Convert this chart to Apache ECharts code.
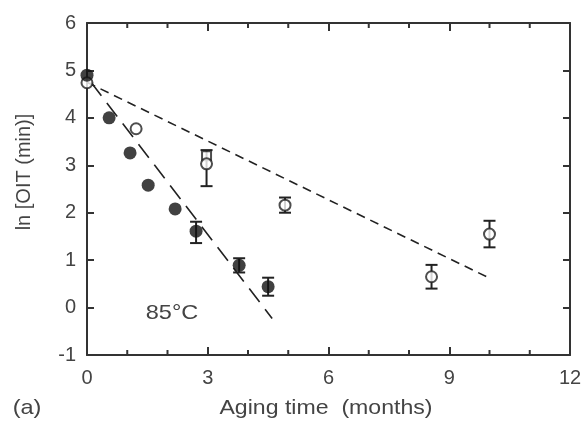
<!DOCTYPE html>
<html><head><meta charset="utf-8">
<script src="https://cdn.jsdelivr.net/npm/echarts@6/dist/echarts.min.js"></script>
<style>html,body{margin:0;padding:0;background:#fff}#c{width:585px;height:422px}</style>
</head><body><div id="c"></div>
<script>
const xTicks = [0, 3, 6, 9, 12];
const xMinorTicks = [1, 2, 4, 5, 7, 8, 10, 11];
const yTicks = [-1, 0, 1, 2, 3, 4, 5, 6];
const filledX = [0, 0.55, 1.07, 1.52, 2.19, 2.71, 3.78, 4.5];
const filledY = [4.9, 4.0, 3.26, 2.58, 2.08, 1.61, 0.89, 0.44];
const filledErr = [null, null, null, null, null, [1.36, 1.81], [0.74, 1.04], [0.25, 0.63]];
const openX = [0, 1.22, 2.97, 4.92, 8.56, 10.0];
const openY = [4.74, 3.77, 3.03, 2.16, 0.65, 1.55];
const openErr = [null, null, [2.56, 3.32], [2.0, 2.32], [0.4, 0.9], [1.27, 1.83]];
const squareX = [2.97];
const squareY = [3.2];
const fastFitX = [0.1, 4.6];
const fastFitY = [4.75, -0.23];
const slowFitX = [0, 10];
const slowFitY = [4.75, 0.62];

const pairs = (xs, ys) => xs.map((x, i) => [x, ys[i]]);
const errData = [];
filledX.forEach((x, i) => { if (filledErr[i]) errData.push([x, filledErr[i][0], filledErr[i][1]]); });
openX.forEach((x, i) => { if (openErr[i]) errData.push([x, openErr[i][0], openErr[i][1]]); });
const yMin = yTicks[0], yMax = yTicks[yTicks.length - 1];

const txt = '#444';
const axisCol = '#333';
const font = 'Liberation Sans, Arial, sans-serif';

const chart = echarts.init(document.getElementById('c'), null, {renderer: 'canvas'});
function xAx(pos) {
  return {
    type: 'value', min: xTicks[0], max: xTicks[xTicks.length - 1], interval: 3,
    position: pos,
    axisLine: {show: true, onZero: false, lineStyle: {color: axisCol, width: 2}},
    axisTick: {show: true, inside: true, length: 8, lineStyle: {color: axisCol, width: 2}},
    axisLabel: pos === 'bottom' ? {color: txt, fontSize: 20, fontFamily: font, margin: 13} : {show: false},
    splitLine: {show: false}
  };
}
function yAx(pos) {
  return {
    type: 'value', min: yMin, max: yMax, interval: 1,
    position: pos,
    axisLine: {show: true, onZero: false, lineStyle: {color: axisCol, width: 2}},
    axisTick: {show: true, inside: true, length: 7, lineStyle: {color: axisCol, width: 2}},
    axisLabel: pos === 'left' ? {color: txt, fontSize: 20, fontFamily: font, margin: 11} : {show: false},
    splitLine: {show: false}
  };
}
chart.setOption({
  animation: false,
  backgroundColor: '#fff',
  grid: {left: 87, right: 15, top: 23, bottom: 67},
  xAxis: [xAx('bottom'), xAx('top')],
  yAxis: [yAx('left'), yAx('right')],
  series: [
    {
      type: 'custom', xAxisIndex: 0, yAxisIndex: 0, z: 1,
      data: errData,
      renderItem: function (params, api) {
        const top = api.coord([api.value(0), api.value(2)]);
        const bot = api.coord([api.value(0), api.value(1)]);
        const w = 6;
        const st = {stroke: '#222', lineWidth: 2};
        return {type: 'group', children: [
          {type: 'line', shape: {x1: top[0], y1: top[1], x2: bot[0], y2: bot[1]}, style: st},
          {type: 'line', shape: {x1: top[0] - w, y1: top[1], x2: top[0] + w, y2: top[1]}, style: st},
          {type: 'line', shape: {x1: bot[0] - w, y1: bot[1], x2: bot[0] + w, y2: bot[1]}, style: st}
        ]};
      }
    },
    {
      type: 'custom', xAxisIndex: 0, yAxisIndex: 0, z: 1, silent: true, clip: false,
      data: xMinorTicks.map(v => [v, yMin, yMax]),
      renderItem: function (params, api) {
        const b = api.coord([api.value(0), api.value(1)]);
        const t = api.coord([api.value(0), api.value(2)]);
        const st = {stroke: axisCol, lineWidth: 2};
        return {type: 'group', children: [
          {type: 'line', shape: {x1: b[0], y1: b[1], x2: b[0], y2: b[1] - 5}, style: st},
          {type: 'line', shape: {x1: t[0], y1: t[1], x2: t[0], y2: t[1] + 5}, style: st}
        ]};
      }
    },
    {
      type: 'line', data: pairs(slowFitX, slowFitY), symbol: 'none', z: 2,
      lineStyle: {color: '#222', width: 1.6, type: [9, 6]}
    },
    {
      type: 'line', data: pairs(fastFitX, fastFitY), symbol: 'none', z: 2,
      lineStyle: {color: '#222', width: 1.6, type: [17, 9]}
    },
    {
      type: 'scatter', data: pairs(squareX, squareY), symbol: 'rect', symbolSize: 9, z: 3,
      itemStyle: {color: '#fff', borderColor: '#222', borderWidth: 2}
    },
    {
      type: 'scatter', data: pairs(openX, openY), symbol: 'circle', symbolSize: 11, z: 4,
      itemStyle: {color: '#fff', borderColor: '#222', borderWidth: 2}
    },
    {
      type: 'scatter', data: pairs(filledX, filledY), symbol: 'circle', symbolSize: 13, z: 5,
      itemStyle: {color: '#111'}
    }
  ],
  graphic: [
    {type: 'text', x: 172, y: 313, scaleX: 1.12, style: {text: '85°C', fill: txt, font: '21px ' + font, textAlign: 'center', textVerticalAlign: 'middle'}},
    {type: 'text', x: 27, y: 408, scaleX: 1.12, style: {text: '(a)', fill: txt, font: '21px ' + font, textAlign: 'center', textVerticalAlign: 'middle'}},
    {type: 'text', x: 326, y: 408, scaleX: 1.1, style: {text: 'Aging time  (months)', fill: txt, font: '21px ' + font, textAlign: 'center', textVerticalAlign: 'middle'}},
    {type: 'text', x: 24, y: 172, rotation: Math.PI / 2, style: {text: 'ln [OIT (min)]', fill: txt, font: '20px ' + font, textAlign: 'center', textVerticalAlign: 'middle'}}
  ]
});
</script></body></html>
